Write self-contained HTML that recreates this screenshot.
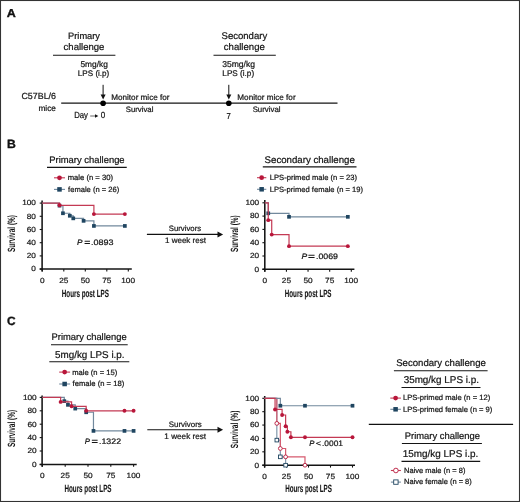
<!DOCTYPE html><html><head><meta charset="utf-8"><style>html,body{margin:0;padding:0;background:#fff;}svg{display:block;will-change:transform;}text{font-family:"Liberation Sans",sans-serif;text-rendering:geometricPrecision;}</style></head><body>
<svg width="520" height="502" viewBox="0 0 520 502">
<rect x="0" y="0" width="520" height="502" fill="#fff"/>
<rect x="0.5" y="0.5" width="519" height="501" fill="none" stroke="#333" stroke-width="1.1"/>
<text x="6.89" y="17.00" font-size="11.5" font-weight="bold" font-style="normal" fill="#111" stroke="#111" stroke-width="0.35" textLength="9.05" lengthAdjust="spacingAndGlyphs" >A</text>
<text x="68.06" y="38.60" font-size="9.27" font-weight="normal" font-style="normal" fill="#151515" stroke="#151515" stroke-width="0.22" textLength="31.94" lengthAdjust="spacingAndGlyphs" >Primary</text>
<text x="63.62" y="50.30" font-size="9.52" font-weight="normal" font-style="normal" fill="#151515" stroke="#151515" stroke-width="0.22" textLength="40.78" lengthAdjust="spacingAndGlyphs" >challenge</text>
<line x1="53.00" y1="55.30" x2="115.40" y2="55.30" stroke="#141414" stroke-width="1.1"/>
<text x="80.47" y="67.10" font-size="8.33" font-weight="normal" font-style="normal" fill="#151515" stroke="#151515" stroke-width="0.22" textLength="27.33" lengthAdjust="spacingAndGlyphs" >5mg/kg</text>
<text x="77.85" y="76.00" font-size="8.09" font-weight="normal" font-style="normal" fill="#151515" stroke="#151515" stroke-width="0.22" textLength="31.48" lengthAdjust="spacingAndGlyphs" >LPS (i.p)</text>
<text x="221.57" y="38.80" font-size="9.55" font-weight="normal" font-style="normal" fill="#151515" stroke="#151515" stroke-width="0.22" textLength="45.64" lengthAdjust="spacingAndGlyphs" >Secondary</text>
<text x="223.82" y="50.20" font-size="9.57" font-weight="normal" font-style="normal" fill="#151515" stroke="#151515" stroke-width="0.22" textLength="40.98" lengthAdjust="spacingAndGlyphs" >challenge</text>
<line x1="213.50" y1="55.30" x2="275.80" y2="55.30" stroke="#141414" stroke-width="1.1"/>
<text x="222.20" y="67.40" font-size="8.56" font-weight="normal" font-style="normal" fill="#151515" stroke="#151515" stroke-width="0.22" textLength="32.82" lengthAdjust="spacingAndGlyphs" >35mg/kg</text>
<text x="222.35" y="76.00" font-size="8.17" font-weight="normal" font-style="normal" fill="#151515" stroke="#151515" stroke-width="0.22" textLength="31.79" lengthAdjust="spacingAndGlyphs" >LPS (i.p)</text>
<line x1="61.20" y1="103.20" x2="337.50" y2="103.20" stroke="#141414" stroke-width="1.2"/>
<circle cx="103.10" cy="103.30" r="2.8" fill="#000" stroke="none" stroke-width="0"/>
<line x1="103.10" y1="84.80" x2="103.10" y2="96.00" stroke="#111" stroke-width="1.0"/>
<path d="M100.60,94.6 L105.60,94.6 L103.10,99.6 Z" fill="#111"/>
<circle cx="228.80" cy="103.30" r="2.8" fill="#000" stroke="none" stroke-width="0"/>
<line x1="228.80" y1="84.80" x2="228.80" y2="96.00" stroke="#111" stroke-width="1.0"/>
<path d="M226.30,94.6 L231.30,94.6 L228.80,99.6 Z" fill="#111"/>
<text x="21.46" y="99.30" font-size="8.87" font-weight="normal" font-style="normal" fill="#151515" stroke="#151515" stroke-width="0.22" textLength="34.51" lengthAdjust="spacingAndGlyphs" >C57BL/6</text>
<text x="38.46" y="111.00" font-size="8.28" font-weight="normal" font-style="normal" fill="#151515" stroke="#151515" stroke-width="0.22" textLength="17.48" lengthAdjust="spacingAndGlyphs" >mice</text>
<text x="111.25" y="99.80" font-size="8.13" font-weight="normal" font-style="normal" fill="#151515" stroke="#151515" stroke-width="0.22" textLength="58.26" lengthAdjust="spacingAndGlyphs" >Monitor mice for</text>
<text x="125.75" y="111.70" font-size="7.78" font-weight="normal" font-style="normal" fill="#151515" stroke="#151515" stroke-width="0.22" textLength="27.67" lengthAdjust="spacingAndGlyphs" >Survival</text>
<text x="237.35" y="99.80" font-size="8.13" font-weight="normal" font-style="normal" fill="#151515" stroke="#151515" stroke-width="0.22" textLength="58.26" lengthAdjust="spacingAndGlyphs" >Monitor mice for</text>
<text x="252.65" y="111.70" font-size="7.84" font-weight="normal" font-style="normal" fill="#151515" stroke="#151515" stroke-width="0.22" textLength="27.88" lengthAdjust="spacingAndGlyphs" >Survival</text>
<text x="74.18" y="118.00" font-size="8.8" font-weight="normal" font-style="normal" fill="#151515" stroke="#151515" stroke-width="0.22" textLength="13.81" lengthAdjust="spacingAndGlyphs" >Day</text>
<line x1="90.20" y1="116.00" x2="95.50" y2="116.00" stroke="#666" stroke-width="1.0"/>
<path d="M95,114.2 L98.3,116 L95,117.8 Z" fill="#111"/>
<text x="100.67" y="118.40" font-size="8.8" font-weight="normal" font-style="normal" fill="#151515" stroke="#151515" stroke-width="0.22" textLength="4.52" lengthAdjust="spacingAndGlyphs" >0</text>
<text x="226.62" y="118.70" font-size="8.6" font-weight="normal" font-style="normal" fill="#151515" stroke="#151515" stroke-width="0.22" textLength="4.28" lengthAdjust="spacingAndGlyphs" >7</text>
<text x="7.01" y="147.60" font-size="12" font-weight="bold" font-style="normal" fill="#111" stroke="#111" stroke-width="0.35" textLength="8.81" lengthAdjust="spacingAndGlyphs" >B</text>
<text x="49.25" y="162.60" font-size="9.42" font-weight="normal" font-style="normal" fill="#151515" stroke="#151515" stroke-width="0.22" textLength="75.37" lengthAdjust="spacingAndGlyphs" >Primary challenge</text>
<line x1="47.00" y1="167.40" x2="126.75" y2="167.40" stroke="#141414" stroke-width="1.1"/>
<line x1="54.00" y1="177.80" x2="65.00" y2="177.80" stroke="#c43a54" stroke-width="1.1"/>
<circle cx="59.50" cy="177.80" r="2.379" fill="#b8163a" stroke="none" stroke-width="0"/>
<line x1="54.00" y1="189.40" x2="65.00" y2="189.40" stroke="#72899d" stroke-width="1.1"/>
<rect x="57.24" y="187.14" width="4.514" height="4.514" fill="#1f4560" stroke="none" stroke-width="0"/>
<text x="67.70" y="180.20" font-size="7.65" font-weight="normal" font-style="normal" fill="#151515" stroke="#151515" stroke-width="0.22" textLength="45.29" lengthAdjust="spacingAndGlyphs" >male (n = 30)</text>
<text x="68.09" y="191.70" font-size="7.57" font-weight="normal" font-style="normal" fill="#151515" stroke="#151515" stroke-width="0.22" textLength="51.09" lengthAdjust="spacingAndGlyphs" >female (n = 26)</text>
<text x="264.57" y="162.90" font-size="9.66" font-weight="normal" font-style="normal" fill="#151515" stroke="#151515" stroke-width="0.22" textLength="90.22" lengthAdjust="spacingAndGlyphs" >Secondary challenge</text>
<line x1="262.80" y1="166.90" x2="356.50" y2="166.90" stroke="#141414" stroke-width="1.1"/>
<line x1="257.00" y1="177.70" x2="266.30" y2="177.70" stroke="#c43a54" stroke-width="1.1"/>
<circle cx="261.65" cy="177.70" r="2.379" fill="#b8163a" stroke="none" stroke-width="0"/>
<line x1="257.00" y1="189.30" x2="266.30" y2="189.30" stroke="#72899d" stroke-width="1.1"/>
<rect x="259.39" y="187.04" width="4.514" height="4.514" fill="#1f4560" stroke="none" stroke-width="0"/>
<text x="269.79" y="180.10" font-size="7.6" font-weight="normal" font-style="normal" fill="#151515" stroke="#151515" stroke-width="0.22" textLength="87.18" lengthAdjust="spacingAndGlyphs" >LPS-primed male (n = 23)</text>
<text x="269.79" y="191.60" font-size="7.57" font-weight="normal" font-style="normal" fill="#151515" stroke="#151515" stroke-width="0.22" textLength="93.17" lengthAdjust="spacingAndGlyphs" >LPS-primed female (n = 19)</text>
<text x="168.75" y="231.20" font-size="7.78" font-weight="normal" font-style="normal" fill="#151515" stroke="#151515" stroke-width="0.22" textLength="32.40" lengthAdjust="spacingAndGlyphs" >Survivors</text>
<line x1="146.90" y1="234.40" x2="219.00" y2="234.40" stroke="#111" stroke-width="1.1"/>
<path d="M217.5,231.4 L223.1,234.4 L217.5,237.4 Z" fill="#111"/>
<text x="165.00" y="243.00" font-size="7.99" font-weight="normal" font-style="normal" fill="#151515" stroke="#151515" stroke-width="0.22" textLength="40.87" lengthAdjust="spacingAndGlyphs" >1 week rest</text>
<line x1="42.10" y1="200.50" x2="42.10" y2="271.50" stroke="#141414" stroke-width="1.55"/>
<line x1="39.70" y1="269.10" x2="131.80" y2="269.10" stroke="#141414" stroke-width="1.5"/>
<line x1="39.70" y1="269.10" x2="42.10" y2="269.10" stroke="#141414" stroke-width="1.1"/>
<text x="31.31" y="271.40" font-size="7.5" font-weight="normal" font-style="normal" fill="#1a1a1a" stroke="#1a1a1a" stroke-width="0.22" textLength="4.59" lengthAdjust="spacingAndGlyphs" >0</text>
<line x1="39.70" y1="255.90" x2="42.10" y2="255.90" stroke="#141414" stroke-width="1.1"/>
<text x="26.73" y="258.20" font-size="7.5" font-weight="normal" font-style="normal" fill="#1a1a1a" stroke="#1a1a1a" stroke-width="0.22" textLength="9.18" lengthAdjust="spacingAndGlyphs" >20</text>
<line x1="39.70" y1="242.70" x2="42.10" y2="242.70" stroke="#141414" stroke-width="1.1"/>
<text x="26.73" y="245.00" font-size="7.5" font-weight="normal" font-style="normal" fill="#1a1a1a" stroke="#1a1a1a" stroke-width="0.22" textLength="9.18" lengthAdjust="spacingAndGlyphs" >40</text>
<line x1="39.70" y1="229.50" x2="42.10" y2="229.50" stroke="#141414" stroke-width="1.1"/>
<text x="26.73" y="231.80" font-size="7.5" font-weight="normal" font-style="normal" fill="#1a1a1a" stroke="#1a1a1a" stroke-width="0.22" textLength="9.18" lengthAdjust="spacingAndGlyphs" >60</text>
<line x1="39.70" y1="216.30" x2="42.10" y2="216.30" stroke="#141414" stroke-width="1.1"/>
<text x="26.73" y="218.60" font-size="7.5" font-weight="normal" font-style="normal" fill="#1a1a1a" stroke="#1a1a1a" stroke-width="0.22" textLength="9.18" lengthAdjust="spacingAndGlyphs" >80</text>
<line x1="39.70" y1="203.10" x2="42.10" y2="203.10" stroke="#141414" stroke-width="1.1"/>
<text x="22.15" y="205.40" font-size="7.5" font-weight="normal" font-style="normal" fill="#1a1a1a" stroke="#1a1a1a" stroke-width="0.22" textLength="13.77" lengthAdjust="spacingAndGlyphs" >100</text>
<line x1="42.30" y1="269.10" x2="42.30" y2="271.50" stroke="#141414" stroke-width="1.1"/>
<text x="39.99" y="282.50" font-size="7.5" font-weight="normal" font-style="normal" fill="#1a1a1a" stroke="#1a1a1a" stroke-width="0.22" textLength="4.59" lengthAdjust="spacingAndGlyphs" >0</text>
<line x1="63.80" y1="269.10" x2="63.80" y2="271.50" stroke="#141414" stroke-width="1.1"/>
<text x="59.18" y="282.50" font-size="7.5" font-weight="normal" font-style="normal" fill="#1a1a1a" stroke="#1a1a1a" stroke-width="0.22" textLength="9.18" lengthAdjust="spacingAndGlyphs" >25</text>
<line x1="85.30" y1="269.10" x2="85.30" y2="271.50" stroke="#141414" stroke-width="1.1"/>
<text x="80.70" y="282.50" font-size="7.5" font-weight="normal" font-style="normal" fill="#1a1a1a" stroke="#1a1a1a" stroke-width="0.22" textLength="9.18" lengthAdjust="spacingAndGlyphs" >50</text>
<line x1="106.80" y1="269.10" x2="106.80" y2="271.50" stroke="#141414" stroke-width="1.1"/>
<text x="102.18" y="282.50" font-size="7.5" font-weight="normal" font-style="normal" fill="#1a1a1a" stroke="#1a1a1a" stroke-width="0.22" textLength="9.18" lengthAdjust="spacingAndGlyphs" >75</text>
<line x1="128.30" y1="269.10" x2="128.30" y2="271.50" stroke="#141414" stroke-width="1.1"/>
<text x="121.27" y="282.50" font-size="7.5" font-weight="normal" font-style="normal" fill="#1a1a1a" stroke="#1a1a1a" stroke-width="0.22" textLength="13.77" lengthAdjust="spacingAndGlyphs" >100</text>
<path d="M42.30,203.10 H59.50 V205.64 H62.94 V213.26 H69.82 V215.77 H73.26 V218.35 H83.58 V220.85 H93.90 V225.94 H124.86" fill="none" stroke="#72899d" stroke-width="1.2"/>
<rect x="57.65" y="203.79" width="3.7" height="3.7" fill="#1f4560" stroke="none" stroke-width="0"/>
<rect x="61.09" y="211.41" width="3.7" height="3.7" fill="#1f4560" stroke="none" stroke-width="0"/>
<rect x="67.97" y="213.92" width="3.7" height="3.7" fill="#1f4560" stroke="none" stroke-width="0"/>
<rect x="71.41" y="216.50" width="3.7" height="3.7" fill="#1f4560" stroke="none" stroke-width="0"/>
<rect x="81.73" y="219.00" width="3.7" height="3.7" fill="#1f4560" stroke="none" stroke-width="0"/>
<rect x="92.05" y="224.09" width="3.7" height="3.7" fill="#1f4560" stroke="none" stroke-width="0"/>
<rect x="123.01" y="224.09" width="3.7" height="3.7" fill="#1f4560" stroke="none" stroke-width="0"/>
<path d="M42.30,203.10 H59.50 V205.30 H93.90 V214.10 H124.86" fill="none" stroke="#c43a54" stroke-width="1.2"/>
<circle cx="59.50" cy="205.30" r="1.95" fill="#b8163a" stroke="none" stroke-width="0"/>
<circle cx="93.90" cy="214.10" r="1.95" fill="#b8163a" stroke="none" stroke-width="0"/>
<circle cx="124.86" cy="214.10" r="1.95" fill="#b8163a" stroke="none" stroke-width="0"/>
<text x="77.05" y="245.00" font-size="7.9" font-weight="normal" font-style="italic" fill="#151515" stroke="#151515" stroke-width="0.22" textLength="5.51" lengthAdjust="spacingAndGlyphs" >P</text>
<text x="84.38" y="245.00" font-size="7.9" font-weight="bold" font-style="normal" fill="#151515" stroke="#151515" stroke-width="0.1" textLength="6.13" lengthAdjust="spacingAndGlyphs" >=</text>
<text x="91.09" y="245.00" font-size="7.9" font-weight="normal" font-style="normal" fill="#151515" stroke="#151515" stroke-width="0.22" textLength="22.49" lengthAdjust="spacingAndGlyphs" >.0893</text>
<text x="0" y="0" transform="translate(15.20,252.09) rotate(-90)" font-size="10.5" font-weight="bold" fill="#151515" textLength="37.11" lengthAdjust="spacingAndGlyphs">Survival (%)</text>
<text x="61.79" y="296.50" font-size="10.5" font-weight="bold" font-style="normal" fill="#151515" stroke="#151515" stroke-width="0.1" textLength="47.13" lengthAdjust="spacingAndGlyphs" >Hours post LPS</text>
<line x1="264.80" y1="200.00" x2="264.80" y2="271.70" stroke="#141414" stroke-width="1.55"/>
<line x1="262.40" y1="269.30" x2="354.40" y2="269.30" stroke="#141414" stroke-width="1.5"/>
<line x1="262.40" y1="269.30" x2="264.80" y2="269.30" stroke="#141414" stroke-width="1.1"/>
<text x="254.61" y="271.60" font-size="7.5" font-weight="normal" font-style="normal" fill="#1a1a1a" stroke="#1a1a1a" stroke-width="0.22" textLength="4.59" lengthAdjust="spacingAndGlyphs" >0</text>
<line x1="262.40" y1="256.00" x2="264.80" y2="256.00" stroke="#141414" stroke-width="1.1"/>
<text x="250.03" y="258.30" font-size="7.5" font-weight="normal" font-style="normal" fill="#1a1a1a" stroke="#1a1a1a" stroke-width="0.22" textLength="9.18" lengthAdjust="spacingAndGlyphs" >20</text>
<line x1="262.40" y1="242.70" x2="264.80" y2="242.70" stroke="#141414" stroke-width="1.1"/>
<text x="250.03" y="245.00" font-size="7.5" font-weight="normal" font-style="normal" fill="#1a1a1a" stroke="#1a1a1a" stroke-width="0.22" textLength="9.18" lengthAdjust="spacingAndGlyphs" >40</text>
<line x1="262.40" y1="229.40" x2="264.80" y2="229.40" stroke="#141414" stroke-width="1.1"/>
<text x="250.03" y="231.70" font-size="7.5" font-weight="normal" font-style="normal" fill="#1a1a1a" stroke="#1a1a1a" stroke-width="0.22" textLength="9.18" lengthAdjust="spacingAndGlyphs" >60</text>
<line x1="262.40" y1="216.10" x2="264.80" y2="216.10" stroke="#141414" stroke-width="1.1"/>
<text x="250.03" y="218.40" font-size="7.5" font-weight="normal" font-style="normal" fill="#1a1a1a" stroke="#1a1a1a" stroke-width="0.22" textLength="9.18" lengthAdjust="spacingAndGlyphs" >80</text>
<line x1="262.40" y1="202.80" x2="264.80" y2="202.80" stroke="#141414" stroke-width="1.1"/>
<text x="245.45" y="205.10" font-size="7.5" font-weight="normal" font-style="normal" fill="#1a1a1a" stroke="#1a1a1a" stroke-width="0.22" textLength="13.77" lengthAdjust="spacingAndGlyphs" >100</text>
<line x1="264.80" y1="269.30" x2="264.80" y2="271.70" stroke="#141414" stroke-width="1.1"/>
<text x="262.49" y="282.80" font-size="7.5" font-weight="normal" font-style="normal" fill="#1a1a1a" stroke="#1a1a1a" stroke-width="0.22" textLength="4.59" lengthAdjust="spacingAndGlyphs" >0</text>
<line x1="286.43" y1="269.30" x2="286.43" y2="271.70" stroke="#141414" stroke-width="1.1"/>
<text x="281.81" y="282.80" font-size="7.5" font-weight="normal" font-style="normal" fill="#1a1a1a" stroke="#1a1a1a" stroke-width="0.22" textLength="9.18" lengthAdjust="spacingAndGlyphs" >25</text>
<line x1="308.05" y1="269.30" x2="308.05" y2="271.70" stroke="#141414" stroke-width="1.1"/>
<text x="303.45" y="282.80" font-size="7.5" font-weight="normal" font-style="normal" fill="#1a1a1a" stroke="#1a1a1a" stroke-width="0.22" textLength="9.18" lengthAdjust="spacingAndGlyphs" >50</text>
<line x1="329.68" y1="269.30" x2="329.68" y2="271.70" stroke="#141414" stroke-width="1.1"/>
<text x="325.06" y="282.80" font-size="7.5" font-weight="normal" font-style="normal" fill="#1a1a1a" stroke="#1a1a1a" stroke-width="0.22" textLength="9.18" lengthAdjust="spacingAndGlyphs" >75</text>
<line x1="351.30" y1="269.30" x2="351.30" y2="271.70" stroke="#141414" stroke-width="1.1"/>
<text x="344.27" y="282.80" font-size="7.5" font-weight="normal" font-style="normal" fill="#1a1a1a" stroke="#1a1a1a" stroke-width="0.22" textLength="13.77" lengthAdjust="spacingAndGlyphs" >100</text>
<path d="M264.80,202.80 H268.26 V213.31 H289.02 V216.83 H347.84" fill="none" stroke="#72899d" stroke-width="1.2"/>
<rect x="266.41" y="211.46" width="3.7" height="3.7" fill="#1f4560" stroke="none" stroke-width="0"/>
<rect x="287.17" y="214.98" width="3.7" height="3.7" fill="#1f4560" stroke="none" stroke-width="0"/>
<rect x="345.99" y="214.98" width="3.7" height="3.7" fill="#1f4560" stroke="none" stroke-width="0"/>
<path d="M264.80,202.80 H268.26 V220.16 H271.72 V234.59 H289.02 V246.16 H347.84" fill="none" stroke="#c43a54" stroke-width="1.2"/>
<circle cx="268.26" cy="220.16" r="1.95" fill="#b8163a" stroke="none" stroke-width="0"/>
<circle cx="271.72" cy="234.59" r="1.95" fill="#b8163a" stroke="none" stroke-width="0"/>
<circle cx="289.02" cy="246.16" r="1.95" fill="#b8163a" stroke="none" stroke-width="0"/>
<circle cx="347.84" cy="246.16" r="1.95" fill="#b8163a" stroke="none" stroke-width="0"/>
<text x="301.64" y="258.50" font-size="7.9" font-weight="normal" font-style="italic" fill="#151515" stroke="#151515" stroke-width="0.22" textLength="5.72" lengthAdjust="spacingAndGlyphs" >P</text>
<text x="308.02" y="258.50" font-size="7.9" font-weight="bold" font-style="normal" fill="#151515" stroke="#151515" stroke-width="0.1" textLength="6.94" lengthAdjust="spacingAndGlyphs" >=</text>
<text x="316.01" y="258.50" font-size="7.9" font-weight="normal" font-style="normal" fill="#151515" stroke="#151515" stroke-width="0.22" textLength="22.01" lengthAdjust="spacingAndGlyphs" >.0069</text>
<text x="0" y="0" transform="translate(238.20,252.09) rotate(-90)" font-size="10.5" font-weight="bold" fill="#151515" textLength="36.71" lengthAdjust="spacingAndGlyphs">Survival (%)</text>
<text x="284.80" y="296.60" font-size="10.5" font-weight="bold" font-style="normal" fill="#151515" stroke="#151515" stroke-width="0.1" textLength="46.73" lengthAdjust="spacingAndGlyphs" >Hours post LPS</text>
<text x="6.92" y="325.00" font-size="12" font-weight="bold" font-style="normal" fill="#111" stroke="#111" stroke-width="0.35" textLength="8.60" lengthAdjust="spacingAndGlyphs" >C</text>
<text x="51.55" y="340.20" font-size="9.38" font-weight="normal" font-style="normal" fill="#151515" stroke="#151515" stroke-width="0.22" textLength="75.11" lengthAdjust="spacingAndGlyphs" >Primary challenge</text>
<line x1="51.00" y1="344.70" x2="127.70" y2="344.70" stroke="#141414" stroke-width="1.1"/>
<text x="55.01" y="357.50" font-size="9.86" font-weight="normal" font-style="normal" fill="#151515" stroke="#151515" stroke-width="0.22" textLength="69.57" lengthAdjust="spacingAndGlyphs" >5mg/kg LPS i.p.</text>
<line x1="49.30" y1="361.70" x2="129.30" y2="361.70" stroke="#141414" stroke-width="1.1"/>
<line x1="59.20" y1="372.10" x2="70.10" y2="372.10" stroke="#c43a54" stroke-width="1.1"/>
<circle cx="64.65" cy="372.10" r="2.379" fill="#b8163a" stroke="none" stroke-width="0"/>
<line x1="59.20" y1="384.00" x2="70.10" y2="384.00" stroke="#72899d" stroke-width="1.1"/>
<rect x="62.39" y="381.74" width="4.514" height="4.514" fill="#1f4560" stroke="none" stroke-width="0"/>
<text x="72.20" y="374.50" font-size="7.62" font-weight="normal" font-style="normal" fill="#151515" stroke="#151515" stroke-width="0.22" textLength="45.09" lengthAdjust="spacingAndGlyphs" >male (n = 15)</text>
<text x="72.59" y="386.40" font-size="7.64" font-weight="normal" font-style="normal" fill="#151515" stroke="#151515" stroke-width="0.22" textLength="51.60" lengthAdjust="spacingAndGlyphs" >female (n = 18)</text>
<text x="168.84" y="427.30" font-size="7.9" font-weight="normal" font-style="normal" fill="#151515" stroke="#151515" stroke-width="0.22" textLength="32.91" lengthAdjust="spacingAndGlyphs" >Survivors</text>
<line x1="147.30" y1="429.80" x2="219.00" y2="429.80" stroke="#111" stroke-width="1.1"/>
<path d="M217.5,426.8 L223.1,429.8 L217.5,432.8 Z" fill="#111"/>
<text x="164.39" y="438.80" font-size="8.15" font-weight="normal" font-style="normal" fill="#151515" stroke="#151515" stroke-width="0.22" textLength="41.68" lengthAdjust="spacingAndGlyphs" >1 week rest</text>
<line x1="42.10" y1="395.60" x2="42.10" y2="466.80" stroke="#141414" stroke-width="1.55"/>
<line x1="39.70" y1="464.40" x2="136.70" y2="464.40" stroke="#141414" stroke-width="1.5"/>
<line x1="39.70" y1="464.40" x2="42.10" y2="464.40" stroke="#141414" stroke-width="1.1"/>
<text x="32.11" y="466.70" font-size="7.5" font-weight="normal" font-style="normal" fill="#1a1a1a" stroke="#1a1a1a" stroke-width="0.22" textLength="4.59" lengthAdjust="spacingAndGlyphs" >0</text>
<line x1="39.70" y1="451.00" x2="42.10" y2="451.00" stroke="#141414" stroke-width="1.1"/>
<text x="27.53" y="453.30" font-size="7.5" font-weight="normal" font-style="normal" fill="#1a1a1a" stroke="#1a1a1a" stroke-width="0.22" textLength="9.18" lengthAdjust="spacingAndGlyphs" >20</text>
<line x1="39.70" y1="437.60" x2="42.10" y2="437.60" stroke="#141414" stroke-width="1.1"/>
<text x="27.53" y="439.90" font-size="7.5" font-weight="normal" font-style="normal" fill="#1a1a1a" stroke="#1a1a1a" stroke-width="0.22" textLength="9.18" lengthAdjust="spacingAndGlyphs" >40</text>
<line x1="39.70" y1="424.20" x2="42.10" y2="424.20" stroke="#141414" stroke-width="1.1"/>
<text x="27.53" y="426.50" font-size="7.5" font-weight="normal" font-style="normal" fill="#1a1a1a" stroke="#1a1a1a" stroke-width="0.22" textLength="9.18" lengthAdjust="spacingAndGlyphs" >60</text>
<line x1="39.70" y1="410.80" x2="42.10" y2="410.80" stroke="#141414" stroke-width="1.1"/>
<text x="27.53" y="413.10" font-size="7.5" font-weight="normal" font-style="normal" fill="#1a1a1a" stroke="#1a1a1a" stroke-width="0.22" textLength="9.18" lengthAdjust="spacingAndGlyphs" >80</text>
<line x1="39.70" y1="397.40" x2="42.10" y2="397.40" stroke="#141414" stroke-width="1.1"/>
<text x="22.95" y="399.70" font-size="7.5" font-weight="normal" font-style="normal" fill="#1a1a1a" stroke="#1a1a1a" stroke-width="0.22" textLength="13.77" lengthAdjust="spacingAndGlyphs" >100</text>
<line x1="42.40" y1="464.40" x2="42.40" y2="466.80" stroke="#141414" stroke-width="1.1"/>
<text x="40.09" y="478.00" font-size="7.5" font-weight="normal" font-style="normal" fill="#1a1a1a" stroke="#1a1a1a" stroke-width="0.22" textLength="4.59" lengthAdjust="spacingAndGlyphs" >0</text>
<line x1="65.20" y1="464.40" x2="65.20" y2="466.80" stroke="#141414" stroke-width="1.1"/>
<text x="60.58" y="478.00" font-size="7.5" font-weight="normal" font-style="normal" fill="#1a1a1a" stroke="#1a1a1a" stroke-width="0.22" textLength="9.18" lengthAdjust="spacingAndGlyphs" >25</text>
<line x1="88.00" y1="464.40" x2="88.00" y2="466.80" stroke="#141414" stroke-width="1.1"/>
<text x="83.40" y="478.00" font-size="7.5" font-weight="normal" font-style="normal" fill="#1a1a1a" stroke="#1a1a1a" stroke-width="0.22" textLength="9.18" lengthAdjust="spacingAndGlyphs" >50</text>
<line x1="110.80" y1="464.40" x2="110.80" y2="466.80" stroke="#141414" stroke-width="1.1"/>
<text x="106.18" y="478.00" font-size="7.5" font-weight="normal" font-style="normal" fill="#1a1a1a" stroke="#1a1a1a" stroke-width="0.22" textLength="9.18" lengthAdjust="spacingAndGlyphs" >75</text>
<line x1="133.60" y1="464.40" x2="133.60" y2="466.80" stroke="#141414" stroke-width="1.1"/>
<text x="126.57" y="478.00" font-size="7.5" font-weight="normal" font-style="normal" fill="#1a1a1a" stroke="#1a1a1a" stroke-width="0.22" textLength="13.77" lengthAdjust="spacingAndGlyphs" >100</text>
<path d="M42.40,397.40 H64.29 V401.15 H67.94 V404.84 H75.23 V408.59 H86.18 V412.27 H93.47 V430.90 H133.60" fill="none" stroke="#72899d" stroke-width="1.2"/>
<rect x="62.44" y="399.30" width="3.7" height="3.7" fill="#1f4560" stroke="none" stroke-width="0"/>
<rect x="66.09" y="402.99" width="3.7" height="3.7" fill="#1f4560" stroke="none" stroke-width="0"/>
<rect x="73.38" y="406.74" width="3.7" height="3.7" fill="#1f4560" stroke="none" stroke-width="0"/>
<rect x="84.33" y="410.42" width="3.7" height="3.7" fill="#1f4560" stroke="none" stroke-width="0"/>
<rect x="91.62" y="429.05" width="3.7" height="3.7" fill="#1f4560" stroke="none" stroke-width="0"/>
<rect x="122.63" y="429.05" width="3.7" height="3.7" fill="#1f4560" stroke="none" stroke-width="0"/>
<rect x="131.75" y="429.05" width="3.7" height="3.7" fill="#1f4560" stroke="none" stroke-width="0"/>
<path d="M42.40,397.40 H60.64 V401.89 H71.58 V406.31 H86.18 V410.80 H133.60" fill="none" stroke="#c43a54" stroke-width="1.2"/>
<circle cx="60.64" cy="401.89" r="1.95" fill="#b8163a" stroke="none" stroke-width="0"/>
<circle cx="71.58" cy="406.31" r="1.95" fill="#b8163a" stroke="none" stroke-width="0"/>
<circle cx="86.18" cy="410.80" r="1.95" fill="#b8163a" stroke="none" stroke-width="0"/>
<circle cx="124.48" cy="410.80" r="1.95" fill="#b8163a" stroke="none" stroke-width="0"/>
<circle cx="133.60" cy="410.80" r="1.95" fill="#b8163a" stroke="none" stroke-width="0"/>
<text x="84.87" y="443.50" font-size="7.9" font-weight="normal" font-style="italic" fill="#151515" stroke="#151515" stroke-width="0.22" textLength="5.19" lengthAdjust="spacingAndGlyphs" >P</text>
<text x="91.46" y="443.50" font-size="7.9" font-weight="bold" font-style="normal" fill="#151515" stroke="#151515" stroke-width="0.1" textLength="6.48" lengthAdjust="spacingAndGlyphs" >=</text>
<text x="99.01" y="443.50" font-size="7.9" font-weight="normal" font-style="normal" fill="#151515" stroke="#151515" stroke-width="0.22" textLength="22.06" lengthAdjust="spacingAndGlyphs" >.1322</text>
<text x="0" y="0" transform="translate(15.30,447.10) rotate(-90)" font-size="10.5" font-weight="bold" fill="#151515" textLength="37.22" lengthAdjust="spacingAndGlyphs">Survival (%)</text>
<text x="64.49" y="492.10" font-size="10.5" font-weight="bold" font-style="normal" fill="#151515" stroke="#151515" stroke-width="0.1" textLength="47.03" lengthAdjust="spacingAndGlyphs" >Hours post LPS</text>
<line x1="264.70" y1="396.00" x2="264.70" y2="467.60" stroke="#141414" stroke-width="1.55"/>
<line x1="262.30" y1="465.20" x2="355.00" y2="465.20" stroke="#141414" stroke-width="1.5"/>
<line x1="262.30" y1="465.20" x2="264.70" y2="465.20" stroke="#141414" stroke-width="1.1"/>
<text x="254.51" y="467.50" font-size="7.5" font-weight="normal" font-style="normal" fill="#1a1a1a" stroke="#1a1a1a" stroke-width="0.22" textLength="4.59" lengthAdjust="spacingAndGlyphs" >0</text>
<line x1="262.30" y1="451.82" x2="264.70" y2="451.82" stroke="#141414" stroke-width="1.1"/>
<text x="249.93" y="454.12" font-size="7.5" font-weight="normal" font-style="normal" fill="#1a1a1a" stroke="#1a1a1a" stroke-width="0.22" textLength="9.18" lengthAdjust="spacingAndGlyphs" >20</text>
<line x1="262.30" y1="438.44" x2="264.70" y2="438.44" stroke="#141414" stroke-width="1.1"/>
<text x="249.93" y="440.74" font-size="7.5" font-weight="normal" font-style="normal" fill="#1a1a1a" stroke="#1a1a1a" stroke-width="0.22" textLength="9.18" lengthAdjust="spacingAndGlyphs" >40</text>
<line x1="262.30" y1="425.06" x2="264.70" y2="425.06" stroke="#141414" stroke-width="1.1"/>
<text x="249.93" y="427.36" font-size="7.5" font-weight="normal" font-style="normal" fill="#1a1a1a" stroke="#1a1a1a" stroke-width="0.22" textLength="9.18" lengthAdjust="spacingAndGlyphs" >60</text>
<line x1="262.30" y1="411.68" x2="264.70" y2="411.68" stroke="#141414" stroke-width="1.1"/>
<text x="249.93" y="413.98" font-size="7.5" font-weight="normal" font-style="normal" fill="#1a1a1a" stroke="#1a1a1a" stroke-width="0.22" textLength="9.18" lengthAdjust="spacingAndGlyphs" >80</text>
<line x1="262.30" y1="398.30" x2="264.70" y2="398.30" stroke="#141414" stroke-width="1.1"/>
<text x="245.35" y="400.60" font-size="7.5" font-weight="normal" font-style="normal" fill="#1a1a1a" stroke="#1a1a1a" stroke-width="0.22" textLength="13.77" lengthAdjust="spacingAndGlyphs" >100</text>
<line x1="264.50" y1="465.20" x2="264.50" y2="467.60" stroke="#141414" stroke-width="1.1"/>
<text x="262.19" y="478.60" font-size="7.5" font-weight="normal" font-style="normal" fill="#1a1a1a" stroke="#1a1a1a" stroke-width="0.22" textLength="4.59" lengthAdjust="spacingAndGlyphs" >0</text>
<line x1="286.50" y1="465.20" x2="286.50" y2="467.60" stroke="#141414" stroke-width="1.1"/>
<text x="281.88" y="478.60" font-size="7.5" font-weight="normal" font-style="normal" fill="#1a1a1a" stroke="#1a1a1a" stroke-width="0.22" textLength="9.18" lengthAdjust="spacingAndGlyphs" >25</text>
<line x1="308.50" y1="465.20" x2="308.50" y2="467.60" stroke="#141414" stroke-width="1.1"/>
<text x="303.90" y="478.60" font-size="7.5" font-weight="normal" font-style="normal" fill="#1a1a1a" stroke="#1a1a1a" stroke-width="0.22" textLength="9.18" lengthAdjust="spacingAndGlyphs" >50</text>
<line x1="330.50" y1="465.20" x2="330.50" y2="467.60" stroke="#141414" stroke-width="1.1"/>
<text x="325.88" y="478.60" font-size="7.5" font-weight="normal" font-style="normal" fill="#1a1a1a" stroke="#1a1a1a" stroke-width="0.22" textLength="9.18" lengthAdjust="spacingAndGlyphs" >75</text>
<line x1="352.50" y1="465.20" x2="352.50" y2="467.60" stroke="#141414" stroke-width="1.1"/>
<text x="345.47" y="478.60" font-size="7.5" font-weight="normal" font-style="normal" fill="#1a1a1a" stroke="#1a1a1a" stroke-width="0.22" textLength="13.77" lengthAdjust="spacingAndGlyphs" >100</text>
<path d="M264.50,398.30 H276.82 V440.11 H280.34 V456.84 H285.62 V465.20" fill="none" stroke="#8298ab" stroke-width="1.2"/>
<rect x="275.02" y="438.31" width="3.6" height="3.6" fill="#fff" stroke="#1f4560" stroke-width="0.9"/>
<rect x="278.54" y="455.04" width="3.6" height="3.6" fill="#fff" stroke="#1f4560" stroke-width="0.9"/>
<rect x="283.82" y="463.40" width="3.6" height="3.6" fill="#fff" stroke="#1f4560" stroke-width="0.9"/>
<path d="M264.50,398.30 H276.82 V423.39 H280.34 V448.48 H285.62 V456.84 H304.98 V465.20" fill="none" stroke="#d65a6e" stroke-width="1.2"/>
<circle cx="276.82" cy="423.39" r="1.9" fill="#fff" stroke="#b8163a" stroke-width="0.9"/>
<circle cx="280.34" cy="448.48" r="1.9" fill="#fff" stroke="#b8163a" stroke-width="0.9"/>
<circle cx="285.62" cy="456.84" r="1.9" fill="#fff" stroke="#b8163a" stroke-width="0.9"/>
<circle cx="304.98" cy="465.20" r="1.9" fill="#fff" stroke="#b8163a" stroke-width="0.9"/>
<path d="M264.50,398.30 H280.34 V405.73 H352.50" fill="none" stroke="#72899d" stroke-width="1.2"/>
<rect x="278.49" y="403.88" width="3.7" height="3.7" fill="#1f4560" stroke="none" stroke-width="0"/>
<rect x="303.13" y="403.88" width="3.7" height="3.7" fill="#1f4560" stroke="none" stroke-width="0"/>
<rect x="350.65" y="403.88" width="3.7" height="3.7" fill="#1f4560" stroke="none" stroke-width="0"/>
<path d="M264.50,398.30 H275.06 V409.47 H282.10 V415.02 H285.62 V426.20 H287.38 V431.75 H290.90 V437.30 H352.50" fill="none" stroke="#c43a54" stroke-width="1.2"/>
<circle cx="275.06" cy="409.47" r="1.95" fill="#b8163a" stroke="none" stroke-width="0"/>
<circle cx="282.10" cy="415.02" r="1.95" fill="#b8163a" stroke="none" stroke-width="0"/>
<circle cx="285.62" cy="426.20" r="1.95" fill="#b8163a" stroke="none" stroke-width="0"/>
<circle cx="287.38" cy="431.75" r="1.95" fill="#b8163a" stroke="none" stroke-width="0"/>
<circle cx="290.90" cy="437.30" r="1.95" fill="#b8163a" stroke="none" stroke-width="0"/>
<circle cx="304.98" cy="437.30" r="1.95" fill="#b8163a" stroke="none" stroke-width="0"/>
<circle cx="352.50" cy="437.30" r="1.95" fill="#b8163a" stroke="none" stroke-width="0"/>
<text x="309.27" y="446.20" font-size="7.9" font-weight="normal" font-style="italic" fill="#151515" stroke="#151515" stroke-width="0.22" textLength="5.19" lengthAdjust="spacingAndGlyphs" >P</text>
<text x="315.85" y="446.20" font-size="7.9" font-weight="normal" font-style="normal" fill="#151515" stroke="#151515" stroke-width="0.22" textLength="5.30" lengthAdjust="spacingAndGlyphs" >&lt;</text>
<text x="322.05" y="446.20" font-size="7.9" font-weight="normal" font-style="normal" fill="#151515" stroke="#151515" stroke-width="0.22" textLength="20.95" lengthAdjust="spacingAndGlyphs" >.0001</text>
<text x="0" y="0" transform="translate(238.30,448.20) rotate(-90)" font-size="10.5" font-weight="bold" fill="#151515" textLength="37.52" lengthAdjust="spacingAndGlyphs">Survival (%)</text>
<text x="285.20" y="492.30" font-size="10.5" font-weight="bold" font-style="normal" fill="#151515" stroke="#151515" stroke-width="0.1" textLength="46.73" lengthAdjust="spacingAndGlyphs" >Hours post LPS</text>
<text x="396.17" y="366.10" font-size="9.61" font-weight="normal" font-style="normal" fill="#151515" stroke="#151515" stroke-width="0.22" textLength="89.72" lengthAdjust="spacingAndGlyphs" >Secondary challenge</text>
<line x1="393.90" y1="370.80" x2="487.60" y2="370.80" stroke="#141414" stroke-width="1.1"/>
<text x="403.65" y="383.30" font-size="9.89" font-weight="normal" font-style="normal" fill="#151515" stroke="#151515" stroke-width="0.22" textLength="75.29" lengthAdjust="spacingAndGlyphs" >35mg/kg LPS i.p.</text>
<line x1="401.50" y1="387.50" x2="480.50" y2="387.50" stroke="#141414" stroke-width="1.1"/>
<line x1="390.30" y1="398.10" x2="400.90" y2="398.10" stroke="#c43a54" stroke-width="1.1"/>
<circle cx="395.60" cy="398.10" r="2.379" fill="#b8163a" stroke="none" stroke-width="0"/>
<line x1="390.30" y1="409.30" x2="400.90" y2="409.30" stroke="#72899d" stroke-width="1.1"/>
<rect x="393.34" y="407.04" width="4.514" height="4.514" fill="#1f4560" stroke="none" stroke-width="0"/>
<text x="402.99" y="400.40" font-size="7.6" font-weight="normal" font-style="normal" fill="#151515" stroke="#151515" stroke-width="0.22" textLength="87.18" lengthAdjust="spacingAndGlyphs" >LPS-primed male (n = 12)</text>
<text x="402.99" y="411.60" font-size="7.6" font-weight="normal" font-style="normal" fill="#151515" stroke="#151515" stroke-width="0.22" textLength="89.30" lengthAdjust="spacingAndGlyphs" >LPS-primed female (n = 9)</text>
<line x1="368.80" y1="424.30" x2="513.10" y2="424.30" stroke="#111" stroke-width="1.3"/>
<text x="404.75" y="439.20" font-size="9.4" font-weight="normal" font-style="normal" fill="#151515" stroke="#151515" stroke-width="0.22" textLength="75.22" lengthAdjust="spacingAndGlyphs" >Primary challenge</text>
<line x1="401.90" y1="443.50" x2="481.90" y2="443.50" stroke="#141414" stroke-width="1.1"/>
<text x="402.86" y="457.10" font-size="9.9" font-weight="normal" font-style="normal" fill="#151515" stroke="#151515" stroke-width="0.22" textLength="75.39" lengthAdjust="spacingAndGlyphs" >15mg/kg LPS i.p.</text>
<line x1="401.50" y1="461.40" x2="480.20" y2="461.40" stroke="#141414" stroke-width="1.1"/>
<line x1="390.90" y1="470.50" x2="400.90" y2="470.50" stroke="#c43a54" stroke-width="1.1"/>
<circle cx="395.90" cy="470.50" r="2.318" fill="#fff" stroke="#b8163a" stroke-width="0.9"/>
<line x1="390.90" y1="482.10" x2="400.90" y2="482.10" stroke="#72899d" stroke-width="1.1"/>
<rect x="393.70" y="479.90" width="4.392" height="4.392" fill="#fff" stroke="#1f4560" stroke-width="0.9"/>
<text x="404.10" y="472.80" font-size="7.49" font-weight="normal" font-style="normal" fill="#151515" stroke="#151515" stroke-width="0.22" textLength="61.37" lengthAdjust="spacingAndGlyphs" >Naive male (n = 8)</text>
<text x="404.10" y="484.30" font-size="7.49" font-weight="normal" font-style="normal" fill="#151515" stroke="#151515" stroke-width="0.22" textLength="67.66" lengthAdjust="spacingAndGlyphs" >Naive female (n = 8)</text>
</svg></body></html>
